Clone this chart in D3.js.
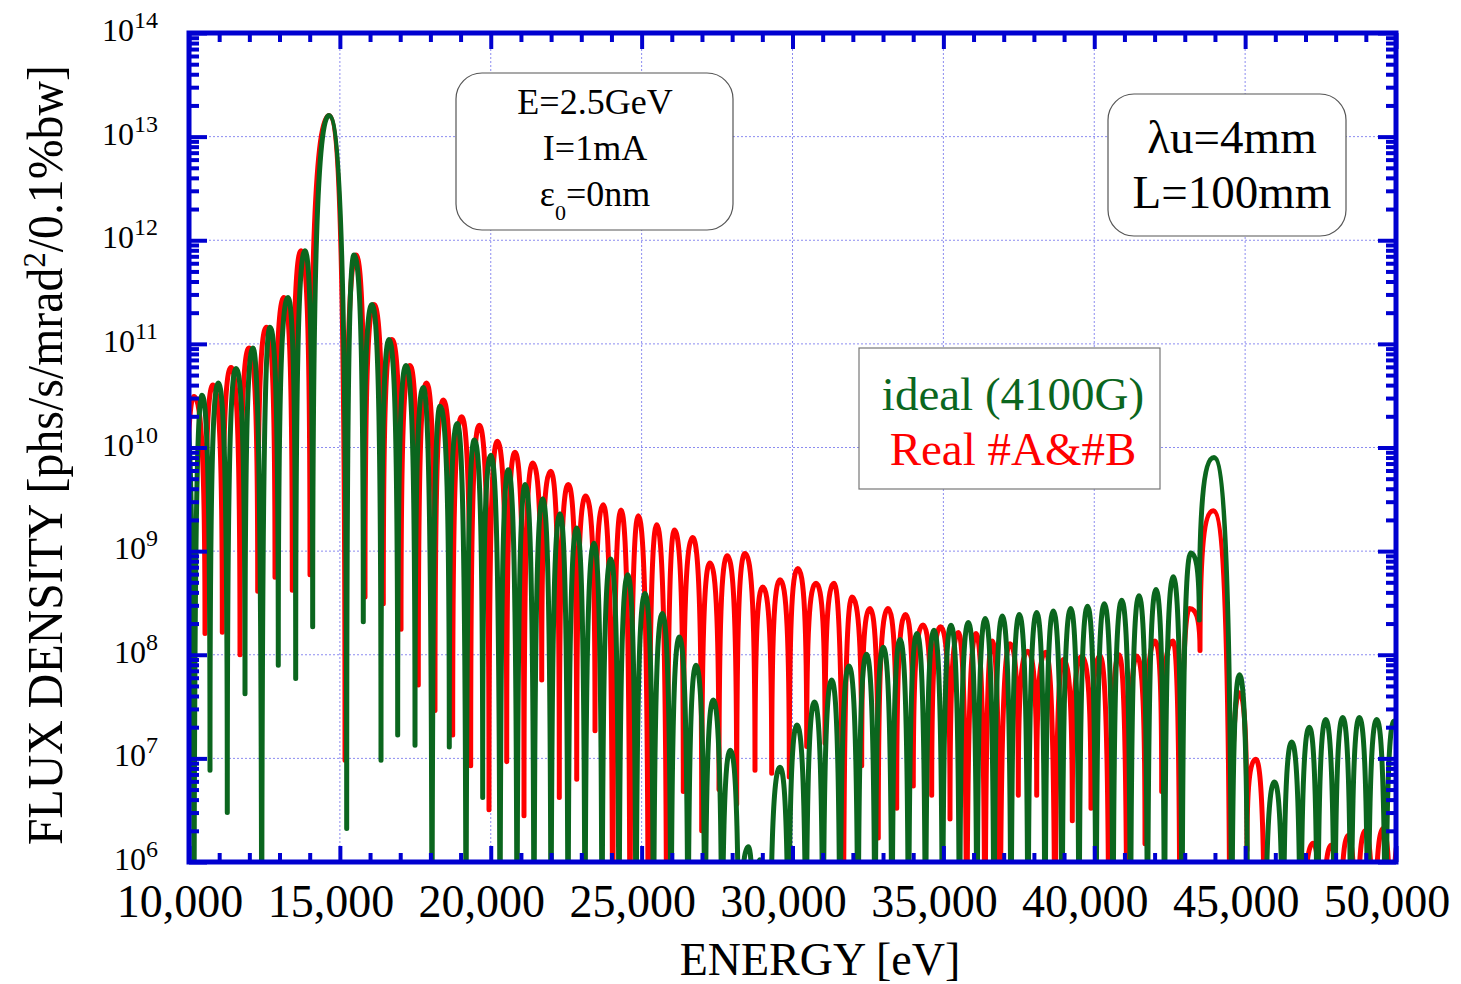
<!DOCTYPE html>
<html>
<head>
<meta charset="utf-8">
<script src="https://cdn.jsdelivr.net/npm/d3@7"></script>
<style>
  body { margin: 0; background: #fff; }
  svg { display: block; font-family: "Liberation Serif", "Times New Roman", serif; }
</style>
</head>
<body>
<div id="chart"></div>
<script>
// lobes: troughs and peaks alternate (trough first)
const idealEnergy = [
  9620, 9901, 10166, 10431, 10696, 10971, 11269, 11558, 11856, 12121,
  12409, 12684, 12959, 13281, 13536, 13844, 14099, 14640, 15226, 15468,
  15776, 16065, 16363, 16628, 16916, 17191, 17490, 17765, 18053, 18318,
  18626, 18891, 19180, 19455, 19733, 20008, 20307, 20582, 20870, 21145,
  21433, 21722, 21997, 22295, 22560, 22848, 23123, 23422, 23687, 23975,
  24250, 24539, 24813, 25112, 25393, 25685, 25973, 26249, 26537, 26802,
  27100, 27375, 27664, 27939, 28227, 28535, 28724, 28923, 29254, 29586,
  29867, 30149, 30447, 30729, 31011, 31299, 31574, 31872, 32170, 32452,
  32734, 33009, 33297, 33563, 33844, 34126, 34407, 34689, 34971, 35253,
  35534, 35826, 36114, 36386, 36678, 36953, 37241, 37516, 37804, 38093,
  38368, 38643, 38931, 39220, 39495, 39777, 40058, 40333, 40621, 40910,
  41201, 41483, 41765, 42047, 42328, 42620, 42908, 43197, 43481, 43969,
  44555, 44814, 45095, 45361, 45658, 45974, 46255, 46544, 46835, 47127,
  47398, 47671, 47962, 48234, 48509, 48785, 49072, 49361, 49652, 49935,
  50300
];
const idealFlux = [
  1e4, 2.2e10, 1e4, 3.2e10, 7.7e6, 4.2e10, 3.0e6, 5.8e10, 4.2e7, 9.1e10,
  1e4, 1.45e11, 7.9e7, 2.8e11, 5.9e7, 7.9e11, 1.86e8, 1.6e13, 2.1e6, 7.2e11,
  2.08e8, 2.4e11, 9.6e6, 1.1e11, 1.68e7, 6.2e10, 1.34e7, 3.8e10, 1e4, 2.5e10,
  1.29e7, 1.7e10, 1e4, 1.18e10, 4.2e6, 8.4e9, 1e4, 6.1e9, 1e4, 4.4e9,
  1e4, 3.2e9, 1e4, 2.3e9, 1e4, 1.67e9, 1e4, 1.19e9, 1e4, 8.4e8,
  1e4, 5.9e8, 1e4, 3.9e8, 1e4, 2.5e8, 1e4, 1.48e8, 1e4, 7.9e7,
  1e4, 3.65e7, 1e4, 1.2e7, 1e4, 1.4e6, 1e4, 1.05e6, 1e4, 8.2e6,
  1e4, 2.1e7, 1e4, 3.5e7, 1e4, 5.7e7, 1e4, 7.8e7, 1e4, 1.01e8,
  1e4, 1.18e8, 1e4, 1.4e8, 1e4, 1.6e8, 1e4, 1.72e8, 1e4, 1.93e8,
  1e4, 2.05e8, 1e4, 2.24e8, 1e4, 2.36e8, 1e4, 2.44e8, 1e4, 2.55e8,
  1e4, 2.65e8, 1e4, 2.8e8, 1e4, 2.93e8, 1e4, 3.1e8, 1e4, 3.35e8,
  1e4, 3.7e8, 1e4, 4.27e8, 1e4, 5.65e8, 1e4, 9.6e8, 2.16e8, 8.0e9,
  1e4, 6.4e7, 1e4, 5e5, 1e4, 5.9e6, 1e4, 1.44e7, 1e4, 2.0e7,
  1e4, 2.37e7, 1e4, 2.48e7, 1e4, 2.48e7, 1e4, 2.37e7, 1e4, 2.3e7,
  1e4
];

const realEnergy = [
  9900, 10166, 10530, 10795, 11104, 11392, 11690, 11988, 12277, 12568,
  12850, 13148, 13423, 13712, 14010, 14640, 15170, 15534, 15833, 16131,
  16439, 16727, 17026, 17324, 17599, 17871, 18152, 18428, 18739, 19037,
  19335, 19621, 19942, 20217, 20529, 20804, 21102, 21391, 21689, 21987,
  22272, 22570, 22849, 23147, 23455, 23730, 24041, 24317, 24615, 24890,
  25221, 25500, 25831, 26083, 26381, 26693, 26991, 27266, 27564, 27840,
  28151, 28426, 28757, 29013, 29311, 29586, 29894, 30173, 30471, 30779,
  31078, 31375, 31683, 31972, 32293, 32568, 32843, 33165, 33453, 33745,
  34003, 34325, 34613, 34905, 35220, 35495, 35773, 36081, 36379, 36621,
  36876, 37208, 37483, 37795, 38093, 38391, 38699, 38974, 39273, 39577,
  39892, 40191, 40489, 40820, 41085, 41407, 41682, 42013, 42235, 42610,
  42842, 43157, 43505, 43946, 44499, 44808, 45062, 45355, 45658, 45969,
  46221, 46519, 46884, 47249, 47546, 47845, 48126, 48411, 48690, 48974,
  49270, 49571, 49850, 50134, 50450
];
const realFlux = [
  1e8, 3.1e10, 1.6e8, 4.0e10, 1.65e8, 5.9e10, 1.0e8, 9.1e10, 4.1e8, 1.45e11,
  5.6e8, 2.8e11, 4.2e8, 7.9e11, 5.9e8, 1.6e13, 9.6e6, 7.2e11, 3.6e8, 2.4e11,
  3.1e8, 1.1e11, 1.76e8, 6.2e10, 5.1e7, 4.2e10, 2.9e7, 2.87e10, 1.68e7, 1.98e10,
  8.5e6, 1.64e10, 3.2e6, 1.15e10, 9.3e6, 9.0e9, 2.8e6, 7.1e9, 5.7e7, 5.9e9,
  4.2e6, 4.4e9, 6.3e6, 3.4e9, 1.85e7, 2.8e9, 1e4, 2.5e9, 1e4, 2.2e9,
  1e4, 1.8e9, 1e4, 1.6e9, 4.8e6, 1.35e9, 2.0e6, 7.7e8, 5.0e6, 9.0e8,
  3.6e6, 9.5e8, 7.7e6, 4.5e8, 7.2e6, 5.3e8, 6.6e6, 6.8e8, 1.3e7, 4.9e8,
  1.4e7, 4.9e8, 1e4, 3.6e8, 8.5e6, 2.8e8, 1.7e6, 2.8e8, 3.3e6, 2.45e8,
  5.4e6, 1.94e8, 4.4e6, 1.86e8, 2.6e6, 1.64e8, 1e4, 1.6e8, 1e4, 1.36e8,
  1e4, 1.28e8, 4.4e6, 1.08e8, 4.4e6, 1.06e8, 1e4, 9.0e7, 2.5e6, 9.6e7,
  3.3e6, 9.7e7, 1e4, 1.0e8, 1e4, 9.7e7, 1.5e6, 1.36e8, 4.8e6, 1.36e8,
  1e4, 2.8e8, 1.1e8, 2.45e9, 1e4, 4.3e7, 1.3e6, 9.8e6, 1e4, 5e5,
  1e4, 5e5, 1e4, 1.52e6, 1e4, 1.45e6, 1e4, 1.8e6, 1e4, 2.0e6,
  1e4, 2.1e6, 1e4, 1.8e6, 1e4
];

const xMajor = [10000, 15000, 20000, 25000, 30000, 35000, 40000, 45000, 50000];
const yExponents = [6, 7, 8, 9, 10, 11, 12, 13, 14];
const seriesNames = ['ideal (4100G)', 'Real #A&#B'];
const beamLines = ['E=2.5GeV', 'I=1mA'];
const undulatorLines = ['\u03bbu=4mm', 'L=100mm'];

!(function () {
  const width = 1461, height = 984;
  const left = 189, right = 1396, top = 33, bottom = 862;
  const blue = '#0000d0', green = '#0b661e', red = '#ff0000';

  const x = d3.scaleLinear().domain([10000, 50000]).range([left, right]);
  const y = d3.scaleLog().domain([1e6, 1e14]).range([bottom, top]);

  const svg = d3.select('#chart').append('svg')
    .attr('width', width).attr('height', height)
    .attr('viewBox', '0 0 ' + width + ' ' + height);

  svg.append('rect').attr('width', width).attr('height', height).attr('fill', '#fff');

  svg.append('clipPath').attr('id', 'plot')
    .append('rect').attr('x', left).attr('y', top)
    .attr('width', right - left).attr('height', bottom - top);

  // grid
  const grid = svg.append('g')
    .attr('stroke', '#8c8cf0').attr('stroke-width', 1).attr('stroke-dasharray', '2,2');
  grid.selectAll('.gx').data(xMajor.slice(1, -1)).enter().append('line')
    .attr('x1', d => x(d)).attr('x2', d => x(d)).attr('y1', top).attr('y2', bottom);
  grid.selectAll('.gy').data(yExponents.slice(1, -1)).enter().append('line')
    .attr('y1', d => y(Math.pow(10, d))).attr('y2', d => y(Math.pow(10, d)))
    .attr('x1', left).attr('x2', right);

  // each lobe: vertical at the trough, flat at the peak
  function curveLobe(context) {
    let x0, y0, n;
    const k = 0.7;
    return {
      areaStart() {}, areaEnd() {},
      lineStart() { n = 0; },
      lineEnd() {},
      point(px, py) {
        px = +px; py = +py;
        if (n === 0) context.moveTo(px, py);
        else if (py < y0) context.bezierCurveTo(x0, y0 + (py - y0) * k, px - (px - x0) * k, py, px, py);
        else context.bezierCurveTo(x0 + (px - x0) * k, y0, px, py - (py - y0) * k, px, py);
        x0 = px; y0 = py; n++;
      }
    };
  }

  const line = d3.line()
    .x(d => x(d[0])).y(d => y(d[1]))
    .curve(curveLobe);

  const plot = svg.append('g').attr('clip-path', 'url(#plot)');
  plot.append('path')
    .datum(d3.zip(realEnergy, realFlux))
    .attr('d', line)
    .attr('fill', 'none').attr('stroke', red).attr('stroke-width', 5)
    .attr('stroke-linejoin', 'round');
  plot.append('path')
    .datum(d3.zip(idealEnergy, idealFlux))
    .attr('d', line)
    .attr('fill', 'none').attr('stroke', green).attr('stroke-width', 5)
    .attr('stroke-linejoin', 'round');

  // text boxes
  svg.append('rect')
    .attr('x', 456).attr('y', 73).attr('width', 277).attr('height', 157)
    .attr('rx', 26).attr('fill', '#fff').attr('stroke', '#555').attr('stroke-width', 1.2);
  svg.selectAll('.beam').data(beamLines).enter().append('text')
    .attr('x', 595).attr('y', (d, i) => 114 + i * 46)
    .attr('text-anchor', 'middle').attr('font-size', 36).text(d => d);
  const eps = svg.append('text').attr('x', 595).attr('y', 206)
    .attr('text-anchor', 'middle').attr('font-size', 36);
  eps.append('tspan').text('\u03b5');
  eps.append('tspan').attr('dy', 14).attr('font-size', 22).text('0');
  eps.append('tspan').attr('dy', -14).text('=0nm');

  svg.append('rect')
    .attr('x', 1108).attr('y', 94).attr('width', 238).attr('height', 142)
    .attr('rx', 26).attr('fill', '#fff').attr('stroke', '#555').attr('stroke-width', 1.2);
  svg.selectAll('.und').data(undulatorLines).enter().append('text')
    .attr('x', 1232).attr('y', (d, i) => 153 + i * 55)
    .attr('text-anchor', 'middle').attr('font-size', 47).text(d => d);

  // legend
  svg.append('rect')
    .attr('x', 859).attr('y', 348).attr('width', 301).attr('height', 141)
    .attr('fill', '#fff').attr('stroke', '#777').attr('stroke-width', 1.2);
  svg.selectAll('.leg').data(seriesNames).enter().append('text')
    .attr('x', 1013).attr('y', (d, i) => 410 + i * 55)
    .attr('text-anchor', 'middle').attr('font-size', 47)
    .attr('fill', (d, i) => i === 0 ? green : red).text(d => d);

  // frame and ticks
  const xMinor = d3.range(10000, 50001, 1000).filter(v => v % 5000);
  const yMinor = [];
  yExponents.slice(0, -1).forEach(e => {
    for (let m = 2; m <= 9; m++) yMinor.push(m * Math.pow(10, e));
  });
  const yMajor = yExponents.map(e => Math.pow(10, e));

  function ticks(axis, vals, size, tx, ty) {
    const g = svg.append('g').attr('transform', 'translate(' + tx + ',' + ty + ')')
      .call(axis.tickValues(vals).tickSize(-size).tickFormat(''));
    g.select('.domain').remove();
    g.selectAll('line').attr('stroke', blue).attr('stroke-width', 4);
  }
  ticks(d3.axisBottom(x), xMinor, 9, 0, bottom);
  ticks(d3.axisBottom(x), xMajor, 16, 0, bottom);
  ticks(d3.axisTop(x), xMinor, 9, 0, top);
  ticks(d3.axisTop(x), xMajor, 16, 0, top);
  ticks(d3.axisLeft(y), yMinor, 10, left, 0);
  ticks(d3.axisLeft(y), yMajor, 18, left, 0);
  ticks(d3.axisRight(y), yMinor, 10, right, 0);
  ticks(d3.axisRight(y), yMajor, 18, right, 0);

  svg.append('rect')
    .attr('x', left).attr('y', top).attr('width', right - left).attr('height', bottom - top)
    .attr('fill', 'none').attr('stroke', blue).attr('stroke-width', 5);

  // tick labels
  svg.selectAll('.xl').data(xMajor).enter().append('text')
    .attr('x', d => x(d) - 9).attr('y', 917)
    .attr('text-anchor', 'middle').attr('font-size', 46)
    .text(d => d3.format(',')(d));

  const yl = svg.selectAll('.yl').data(yExponents).enter().append('text')
    .attr('x', 158).attr('y', d => y(Math.pow(10, d)) + 8)
    .attr('text-anchor', 'end').attr('font-size', 32);
  yl.append('tspan').text('10');
  yl.append('tspan').attr('dy', -13).attr('font-size', 24).text(d => d);

  // axis titles
  svg.append('text').attr('x', 820).attr('y', 975)
    .attr('text-anchor', 'middle').attr('font-size', 46).text('ENERGY [eV]');

  const yt = svg.append('text')
    .attr('transform', 'translate(62,455) rotate(-90)')
    .attr('text-anchor', 'middle').attr('font-size', 50)
    .attr('textLength', 780).attr('lengthAdjust', 'spacingAndGlyphs');
  yt.append('tspan').text('FLUX DENSITY [phs/s/mrad');
  yt.append('tspan').attr('dy', -17).attr('font-size', 32).text('2');
  yt.append('tspan').attr('dy', 17).text('/0.1%bw]');
}());
</script>
</body>
</html>
